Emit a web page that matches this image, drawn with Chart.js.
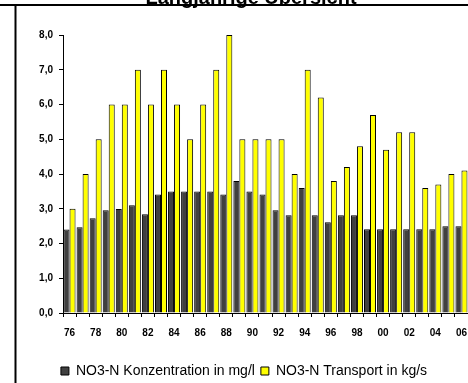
<!DOCTYPE html>
<html>
<head>
<meta charset="utf-8">
<script src="https://cdn.jsdelivr.net/npm/chart.js@4"></script>
<style>
  html, body { margin: 0; padding: 0; background: #fff; }
  canvas { display: block; }
</style>
</head>
<body>
<canvas id="chart" width="468" height="383"></canvas>
<script>
// Jahre 1976 - 2006
const years = ['76', '77', '78', '79', '80', '81', '82', '83', '84', '85', '86', '87', '88', '89', '90',
    '91', '92', '93', '94', '95', '96', '97', '98', '99', '00', '01', '02', '03', '04', '05', '06'];

// NO3-N Konzentration in mg/l
const konzentration = [2.4, 2.47, 2.73, 2.96, 2.99, 3.1, 2.84, 3.41, 3.5, 3.5, 3.5, 3.5, 3.41, 3.8, 3.5,
    3.41, 2.96, 2.81, 3.6, 2.81, 2.61, 2.81, 2.81, 2.41, 2.41, 2.41, 2.41, 2.41, 2.41, 2.5, 2.5];

// NO3-N Transport in kg/s
const transport = [3.0, 4.0, 5.0, 6.0, 6.0, 7.0, 6.0, 7.0, 6.0, 5.0, 6.0, 7.0, 8.0, 5.0, 5.0,
    5.0, 5.0, 4.0, 7.0, 6.2, 3.8, 4.2, 4.8, 5.7, 4.7, 5.2, 5.2, 3.6, 3.7, 4.0, 4.1];

const yTicks = [0, 1, 2, 3, 4, 5, 6, 7, 8];

const titleText = 'Langjährige Übersicht';

Chart.defaults.font.family = "Arial, 'Liberation Sans', sans-serif";
Chart.defaults.color = '#000';

// Rahmenlinien und abgeschnittener Titel
const framePlugin = {
    id: 'frame',
    afterDraw(chart) {
        const ctx = chart.ctx;
        ctx.save();
        ctx.fillStyle = '#000';
        ctx.font = "bold 20px Arial, 'Liberation Sans', sans-serif";
        ctx.textAlign = 'center';
        ctx.textBaseline = 'alphabetic';
        ctx.fillText(titleText, 251, 4);
        ctx.strokeStyle = '#000';
        ctx.lineWidth = 2;
        ctx.beginPath();
        ctx.moveTo(0, 5);
        ctx.lineTo(chart.width, 5);
        ctx.moveTo(15.5, 5);
        ctx.lineTo(15.5, chart.height);
        ctx.stroke();
        ctx.restore();
    }
};

new Chart(document.getElementById('chart'), {
    type: 'bar',
    data: {
        labels: years,
        datasets: [
            {
                label: 'NO3-N Konzentration in mg/l',
                data: konzentration,
                backgroundColor: '#404040',
                borderColor: '#000',
                borderWidth: 1
            },
            {
                label: 'NO3-N Transport in kg/s',
                data: transport,
                backgroundColor: '#ffff00',
                borderColor: '#000',
                borderWidth: 1
            }
        ]
    },
    options: {
        responsive: false,
        animation: false,
        devicePixelRatio: 1,
        categoryPercentage: 0.92,
        barPercentage: 1.0,
        layout: {
            padding: { left: 20, top: 35, right: 0, bottom: -5 }
        },
        scales: {
            x: {
                afterFit: (scale) => {
                    scale.height = 45;
                    scale.paddingLeft = 0;
                    scale.paddingRight = 0;
                },
                grid: {
                    drawOnChartArea: false,
                    tickLength: 4,
                    color: '#000'
                },
                border: { color: '#000', width: 1 },
                ticks: {
                    autoSkip: false,
                    maxRotation: 0,
                    padding: 10,
                    font: { size: 10, weight: 'bold' },
                    callback: (v, i) => (i % 2 === 0 ? years[i] : '')
                }
            },
            y: {
                min: yTicks[0],
                max: yTicks[yTicks.length - 1],
                afterFit: (scale) => { scale.width = 43; },
                afterBuildTicks: (scale) => { scale.ticks = yTicks.map(v => ({ value: v })); },
                grid: {
                    drawOnChartArea: false,
                    tickLength: 4,
                    color: '#000'
                },
                border: { color: '#000', width: 1 },
                ticks: {
                    padding: 6,
                    font: { size: 10, weight: 'bold' },
                    callback: (v) => v.toFixed(1).replace('.', ',')
                }
            }
        },
        plugins: {
            legend: {
                position: 'bottom',
                labels: {
                    boxWidth: 8,
                    boxHeight: 8,
                    padding: 6,
                    font: { size: 14 }
                }
            },
            tooltip: { enabled: false }
        }
    },
    plugins: [framePlugin]
});
</script>
</body>
</html>
